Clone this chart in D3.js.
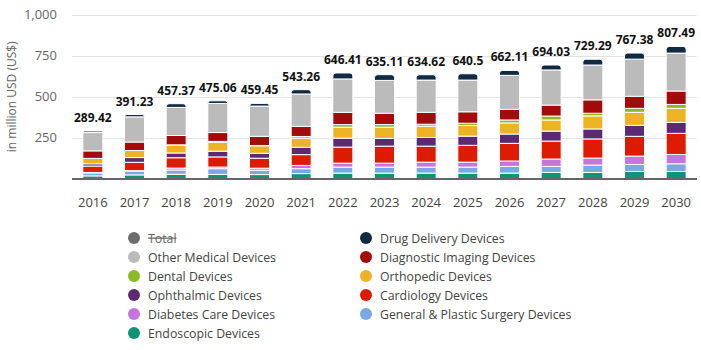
<!DOCTYPE html>
<html>
<head>
<meta charset="utf-8">
<script src="https://cdn.jsdelivr.net/npm/d3@7"></script>
<style>
  body { margin: 0; background: #fff; }
  svg { font-family: "Open Sans", sans-serif; }
</style>
</head>
<body>
<div id="chart"></div>
<script>
// years on the x axis
var years = ["2016","2017","2018","2019","2020","2021","2022","2023","2024","2025","2026","2027","2028","2029","2030"];
var totals = [289.42, 391.23, 457.37, 475.06, 459.45, 543.26, 646.41, 635.11, 634.62, 640.5, 662.11, 694.03, 729.29, 767.38, 807.49];

// segments, bottom to top
var endoscopic   = [16, 22, 26, 25, 24, 30, 33, 33, 33, 33, 33, 37, 37, 43, 43];
var surgery      = [18, 24, 26, 35, 27, 30, 37, 37, 37, 37, 41, 37, 45, 43, 47];
var diabetes     = [3, 2, 12, 10, 12, 20, 24, 24, 30, 30, 33, 45, 43, 51, 57];
var cardiology   = [39, 51, 63, 62, 61, 66, 98, 104, 98, 103, 108, 110, 117, 121, 129];
var ophthalmic   = [14, 29, 29, 35, 30, 45, 55, 47, 53, 56, 57, 61, 61, 67, 67];
var orthopedic   = [33, 43, 49, 54, 46, 56, 67, 69, 69, 65, 68, 68, 80, 80, 86];
var dental       = [0, 0, 1, 6, 2, 10, 16, 16, 12, 14, 18, 24, 16, 24, 24];
var imaging      = [46, 52, 57, 54, 56, 62, 75, 69, 73, 70, 65, 67, 82, 74, 82];
var otherMedical = [112, 154, 172, 178, 185, 198, 204, 201, 197, 194, 208, 215, 213, 227, 232];
var drugDelivery = [ 9.42, 14.23, 22.37, 16.06, 16.45, 26.26, 36.41, 35.11, 32.62, 38.5, 30.11, 30.03, 35.29, 37.38, 40.49];

var seriesNames = ["Endoscopic Devices","General & Plastic Surgery Devices","Diabetes Care Devices","Cardiology Devices","Ophthalmic Devices","Orthopedic Devices","Dental Devices","Diagnostic Imaging Devices","Other Medical Devices","Drug Delivery Devices"];
var seriesValues = [endoscopic, surgery, diabetes, cardiology, ophthalmic, orthopedic, dental, imaging, otherMedical, drugDelivery];
var seriesColors = ["#0e9474","#7aa8e2","#c575dc","#dc1b00","#5b2a74","#eeb325","#8aba24","#a30b0b","#bbbbbb","#102a43"];

var yTicks = [250, 500, 750, 1000];

// legend, two columns, in reading order
var legendLeft  = ["Total","Other Medical Devices","Dental Devices","Ophthalmic Devices","Diabetes Care Devices","Endoscopic Devices"];
var legendRight = ["Drug Delivery Devices","Diagnostic Imaging Devices","Orthopedic Devices","Cardiology Devices","General & Plastic Surgery Devices"];

var width = 701, height = 350;
var margin = {top: 15, left: 72, right: 4, bottom: 171};

var svg = d3.select("#chart").append("svg")
    .attr("width", width)
    .attr("height", height);

var x = d3.scaleBand()
    .domain(years)
    .range([margin.left, width - margin.right])
    .paddingInner(0.52)
    .paddingOuter(0.26);

var y = d3.scaleLinear()
    .domain([0, 1000])
    .range([height - margin.bottom - 0.5, margin.top]);

// grid
svg.append("g")
  .selectAll("line")
  .data(yTicks)
  .enter()
  .append("line")
    .attr("x1", margin.left)
    .attr("x2", width - margin.right)
    .attr("y1", function(d){ return Math.round(y(d)) + 0.5; })
    .attr("y2", function(d){ return Math.round(y(d)) + 0.5; })
    .style("stroke", "#e3e3e3");

svg.append("g")
  .selectAll("text")
  .data(yTicks)
  .enter()
  .append("text")
    .attr("x", 57)
    .attr("y", function(d){ return y(d) + 4; })
    .attr("text-anchor", "end")
    .attr("font-size", "13px")
    .attr("fill", "#666")
    .text(function(d){ return d3.format(",")(d); });

svg.append("text")
    .attr("transform", "translate(16," + y(500) + ") rotate(-90)")
    .attr("text-anchor", "middle")
    .attr("font-size", "12px")
    .attr("fill", "#666")
    .text("in million USD (US$)");

// stacked data
var rows = years.map(function(yr, i){
  var r = {year: yr};
  seriesNames.forEach(function(n, k){ r[n] = seriesValues[k][i]; });
  return r;
});
var stacked = d3.stack().keys(seriesNames)(rows);

function segPath(x0, x1, yb, yt, rounded){
  var r = Math.min(3, (yb - yt));
  if (!rounded) return "M" + x0 + "," + yb + "V" + yt + "H" + x1 + "V" + yb + "Z";
  return "M" + x0 + "," + yb + "V" + (yt + r) + "Q" + x0 + "," + yt + " " + (x0 + r) + "," + yt +
         "H" + (x1 - r) + "Q" + x1 + "," + yt + " " + x1 + "," + (yt + r) + "V" + yb + "Z";
}

stacked.forEach(function(layer, k){
  svg.append("g")
    .selectAll("path")
    .data(layer.filter(function(d){ return d[1] - d[0] > 0; }))
    .enter()
    .append("path")
      .attr("d", function(d){
        var x0 = x(d.data.year), x1 = x0 + x.bandwidth();
        return segPath(x0, x1, y(d[0]), y(d[1]), k == seriesNames.length - 1);
      })
      .style("fill", seriesColors[k])
      .style("stroke", "#fff")
      .style("stroke-width", 1);
});

// axis line
svg.append("line")
    .attr("x1", margin.left)
    .attr("x2", width - margin.right)
    .attr("y1", y(0) + 0.5)
    .attr("y2", y(0) + 0.5)
    .style("stroke", "#333")
    .style("stroke-width", 1.5);

svg.append("g")
  .selectAll("text")
  .data(years)
  .enter()
  .append("text")
    .attr("x", function(d){ return x(d) + x.bandwidth() / 2; })
    .attr("y", 207)
    .attr("text-anchor", "middle")
    .attr("font-size", "13px")
    .attr("fill", "#444")
    .text(function(d){ return d; });

// total labels
svg.append("g")
  .selectAll("text")
  .data(totals)
  .enter()
  .append("text")
    .attr("x", function(d, i){ return x(years[i]) + x.bandwidth() / 2; })
    .attr("y", function(d, i){ return y(d3.sum(seriesValues, function(s){ return s[i]; })) - 9; })
    .attr("text-anchor", "middle")
    .attr("font-size", "12px")
    .attr("font-weight", "bold")
    .attr("fill", "#111")
    .text(function(d){ return d; });

// legend
var legendColor = {"Total": "#6d6d6d"};
seriesNames.forEach(function(n, k){ legendColor[n] = seriesColors[k]; });

function drawLegend(items, lx){
  var g = svg.append("g");
  items.forEach(function(name, i){
    var ly = 238 + i * 19;
    g.append("circle")
      .attr("cx", lx)
      .attr("cy", ly)
      .attr("r", 6)
      .style("fill", legendColor[name]);
    g.append("text")
      .attr("x", lx + 14)
      .attr("y", ly + 4.5)
      .attr("font-size", "12.3px")
      .attr("fill", name == "Total" ? "#666" : "#444")
      .attr("text-decoration", name == "Total" ? "line-through" : null)
      .text(name);
  });
}
drawLegend(legendLeft, 134);
drawLegend(legendRight, 366);
</script>
</body>
</html>
